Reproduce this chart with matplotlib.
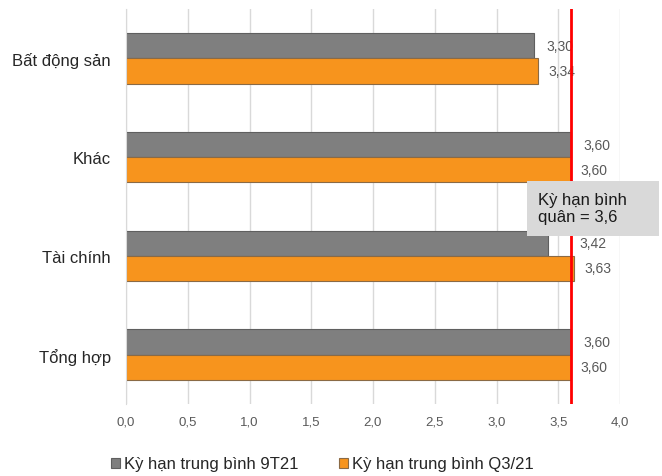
import matplotlib
matplotlib.use("Agg")
import matplotlib.pyplot as plt
import numpy as np
from matplotlib.patches import Rectangle

plt.rcParams['font.family'] = ['Liberation Sans', 'DejaVu Sans']

categories = ["Bất động sản", "Khác", "Tài chính", "Tổng hợp"]
series_9t21 = [3.30, 3.60, 3.42, 3.60]
series_q321 = [3.34, 3.60, 3.63, 3.60]
labels_9t21 = ["3,30", "3,60", "3,42", "3,60"]
labels_q321 = ["3,34", "3,60", "3,63", "3,60"]
legend_names = ["Kỳ hạn trung bình 9T21", "Kỳ hạn trung bình Q3/21"]
avg_value = 3.6
avg_text = "Kỳ hạn bình\nquân = 3,6"
xticks = [0.0, 0.5, 1.0, 1.5, 2.0, 2.5, 3.0, 3.5, 4.0]
xtick_labels = ["0,0", "0,5", "1,0", "1,5", "2,0", "2,5", "3,0", "3,5", "4,0"]

# label offsets in pixels (layout only)
offs_9t21 = [13, 13, 31, 13]
offs_q321 = [10, 10, 10, 10]

W, H = 662, 477
fig = plt.figure(figsize=(W / 100, H / 100), dpi=100)
ax = fig.add_axes([126 / W, 1 - 405 / H, (620 - 126) / W, (405 - 10) / H])

n = len(categories)
y = np.arange(n)
bh = 0.255
gray = "#7f7f7f"
orange = "#f7941d"
ax.barh(y - bh / 2, series_9t21, height=bh, color=gray, edgecolor="#5f5f5f", linewidth=0.8, zorder=2,
        label=legend_names[0])
ax.barh(y + bh / 2, series_q321, height=bh, color=orange, edgecolor="#8a6a45", linewidth=0.8, zorder=2,
        label=legend_names[1])

for i in range(n):
    ax.annotate(labels_9t21[i], (series_9t21[i], y[i] - bh / 2), xytext=(offs_9t21[i] * 0.72, 0),
                textcoords="offset points", va="center", ha="left", fontsize=10, color="#595959", zorder=3)
    ax.annotate(labels_q321[i], (series_q321[i], y[i] + bh / 2), xytext=(offs_q321[i] * 0.72, 0),
                textcoords="offset points", va="center", ha="left", fontsize=10, color="#595959", zorder=3)

ax.axvline(avg_value, color="#ff0000", linewidth=2, zorder=5)

ax.set_xlim(0, 4.0)
ax.set_ylim(n - 0.5, -0.5)
ax.set_xticks(xticks)
ax.set_xticklabels(xtick_labels, fontsize=9.5, color="#595959")
ax.set_yticks(y)
ax.set_yticklabels(categories, fontsize=12, color="#262626")
ax.tick_params(axis="y", length=0, pad=11)
ax.tick_params(axis="x", length=0, pad=8)
ax.grid(axis="x", color="#d9d9d9", linewidth=1, zorder=0)
for s in ["top", "right", "bottom"]:
    ax.spines[s].set_visible(False)
ax.spines["left"].set_color("#d9d9d9")
ax.set_axisbelow(True)

# annotation box
fig.patches.append(Rectangle((527 / W, 1 - 237 / H), (659 - 527) / W, (237 - 182) / H,
                             transform=fig.transFigure, facecolor="#d9d9d9", edgecolor="none", zorder=10))
fig.text(538 / W, 1 - 209 / H, avg_text, fontsize=12, color="#1a1a1a", va="center", ha="left",
         linespacing=1.2, zorder=11)

handles, labs = ax.get_legend_handles_labels()
leg = fig.legend(handles, labs, loc="center left", bbox_to_anchor=(111 / W, 1 - 465 / H), ncol=2, frameon=False,
                 fontsize=12, handlelength=0.55, handleheight=0.55, handletextpad=0.25, columnspacing=2.4,
                 borderpad=0, borderaxespad=0)
for t in leg.get_texts():
    t.set_color("#262626")

fig.savefig("out.png", dpi=100)
